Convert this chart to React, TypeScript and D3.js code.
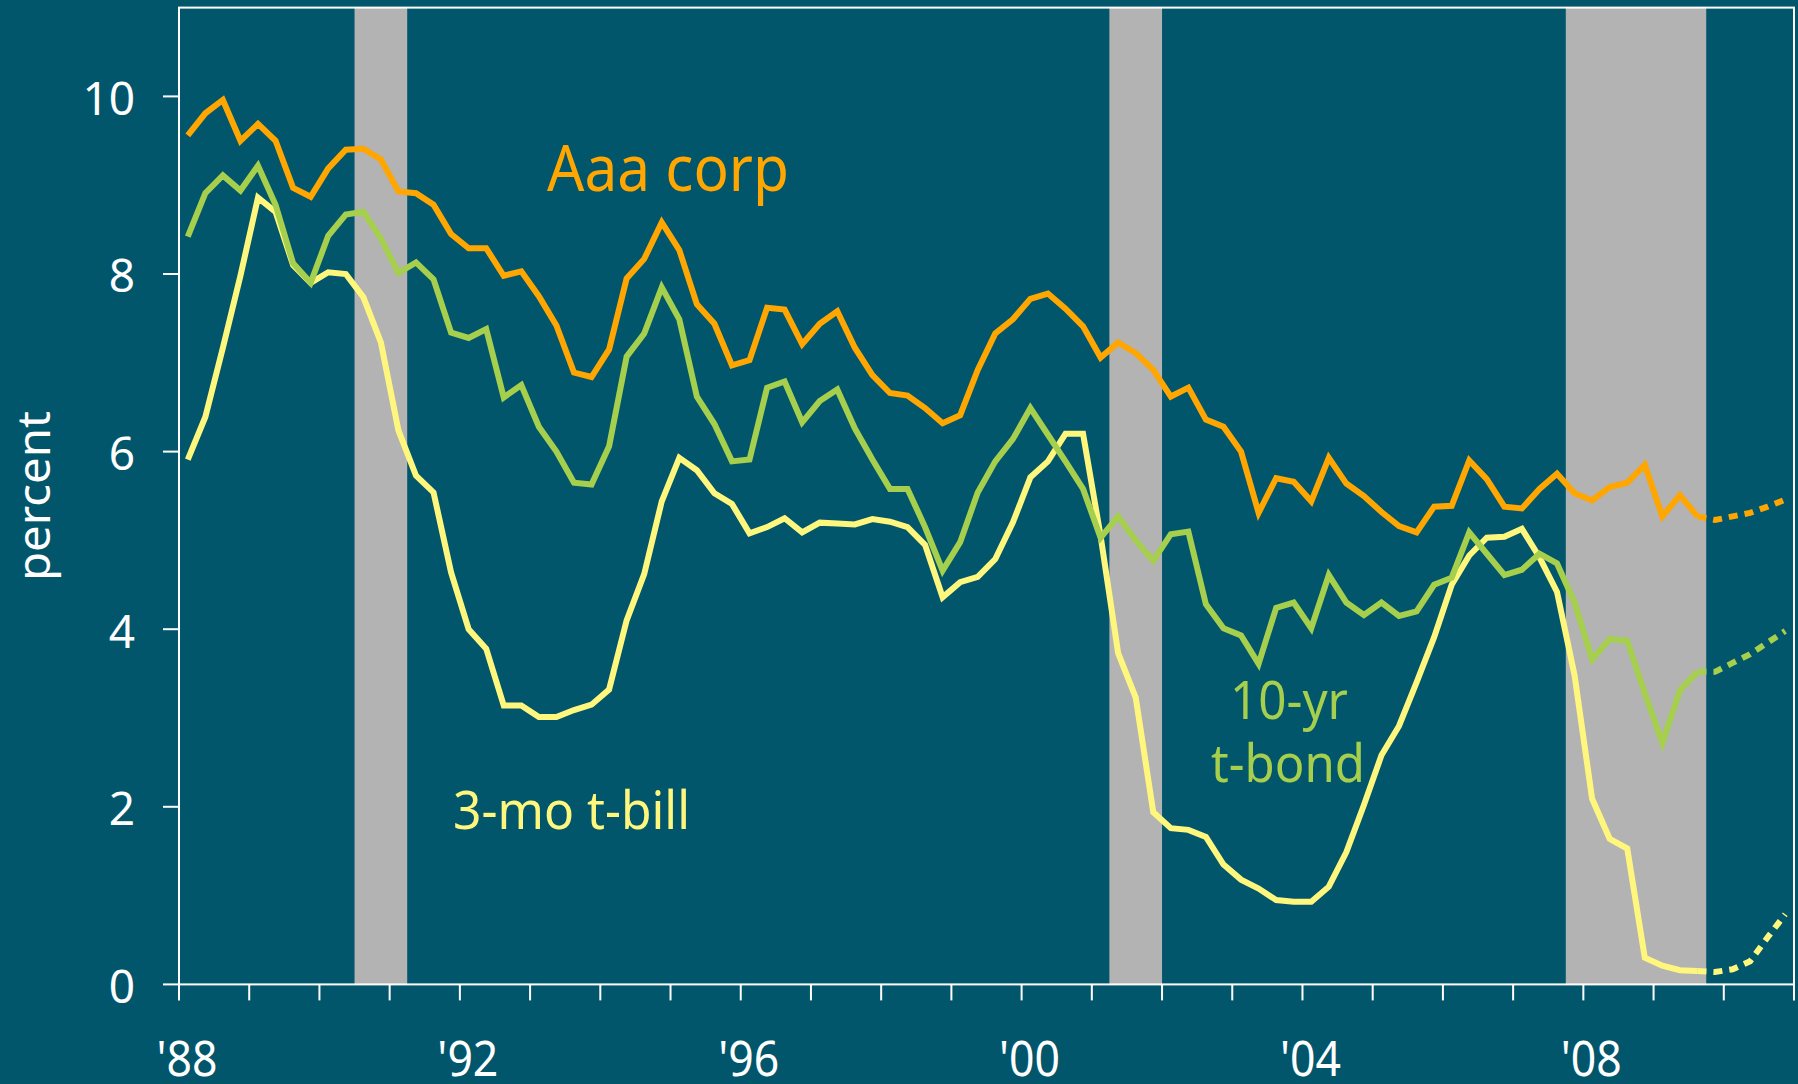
import React, { useEffect, useRef } from "react";
import * as d3 from "d3";

// quarterly averages, 1988Q1 .. 2009Q3
const startYear = 1988;

const aaaCorp = [
  9.56, 9.81, 9.96, 9.5, 9.69, 9.5, 8.97, 8.87, 9.19, 9.4, 9.41, 9.29,
  8.93, 8.91, 8.78, 8.45, 8.29, 8.29, 7.98, 8.03, 7.75, 7.42, 6.89, 6.84,
  7.15, 7.95, 8.17, 8.58, 8.27, 7.66, 7.44, 6.97, 7.03, 7.62, 7.6, 7.21,
  7.44, 7.58, 7.17, 6.86, 6.66, 6.63, 6.49, 6.32, 6.41, 6.92, 7.33, 7.49,
  7.72, 7.78, 7.61, 7.41, 7.06, 7.23, 7.11, 6.92, 6.62, 6.72, 6.36, 6.28,
  6.0, 5.31, 5.7, 5.66, 5.44, 5.93, 5.64, 5.5, 5.32, 5.16, 5.09, 5.38,
  5.39, 5.9, 5.69, 5.38, 5.36, 5.58, 5.75, 5.53, 5.45, 5.6, 5.65, 5.85,
  5.27, 5.51, 5.27,
];

const tenYearBond = [
  8.42, 8.91, 9.11, 8.94, 9.22, 8.78, 8.12, 7.9, 8.43, 8.67, 8.7, 8.4,
  8.01, 8.13, 7.94, 7.34, 7.28, 7.38, 6.61, 6.75, 6.28, 6.0, 5.65, 5.63,
  6.06, 7.07, 7.33, 7.85, 7.49, 6.62, 6.31, 5.89, 5.91, 6.72, 6.79, 6.33,
  6.57, 6.7, 6.26, 5.91, 5.58, 5.58, 5.15, 4.66, 4.98, 5.54, 5.89, 6.14,
  6.49, 6.19, 5.89, 5.58, 5.03, 5.27, 5.0, 4.77, 5.07, 5.1, 4.28, 4.01,
  3.93, 3.61, 4.24, 4.3, 4.01, 4.61, 4.3, 4.16, 4.3, 4.15, 4.2, 4.5,
  4.58, 5.09, 4.85, 4.61, 4.67, 4.85, 4.74, 4.3, 3.66, 3.89, 3.87, 3.28,
  2.72, 3.31, 3.52,
];

const threeMonthBill = [
  5.91, 6.39, 7.17, 7.98, 8.86, 8.7, 8.1, 7.9, 8.02, 8.0, 7.74, 7.23,
  6.24, 5.73, 5.54, 4.64, 4.0, 3.78, 3.14, 3.14, 3.01, 3.01, 3.09, 3.15,
  3.32, 4.1, 4.62, 5.44, 5.93, 5.79, 5.53, 5.41, 5.08, 5.15, 5.25, 5.09,
  5.2, 5.19, 5.18, 5.24, 5.21, 5.15, 4.95, 4.36, 4.53, 4.59, 4.79, 5.2,
  5.71, 5.89, 6.2, 6.2, 5.05, 3.73, 3.23, 1.94, 1.76, 1.74, 1.66, 1.35,
  1.18, 1.08, 0.95, 0.93, 0.93, 1.1, 1.49, 2.02, 2.58, 2.91, 3.4, 3.91,
  4.5, 4.83, 5.03, 5.04, 5.13, 4.81, 4.42, 3.48, 2.09, 1.64, 1.53, 0.3,
  0.21, 0.16, 0.15,
];

// forecast, 2009Q3 .. 2010Q4 (dotted)
const aaaForecast = [5.27, 5.23, 5.27, 5.31, 5.38, 5.46];
const bondForecast = [3.52, 3.52, 3.62, 3.72, 3.85, 3.98];
const billForecast = [0.15, 0.14, 0.17, 0.26, 0.53, 0.79];

const recessions = [
  [1990.5, 1991.25],
  [2001.25, 2002.0],
  [2007.75, 2009.75],
];

const yTicks = [0, 2, 4, 6, 8, 10];
const yearTicks = d3.range(1988, 2012);
const labelYears = [1988, 1992, 1996, 2000, 2004, 2008];

export default function App() {
  const svgRef = useRef(null);

  useEffect(() => {
    document.body.style.margin = "0";

    const bg = "#02566B";
    const font = "'Noto Sans', 'DejaVu Sans', sans-serif";

    const svg = d3.select(svgRef.current);
    svg.selectAll("*").remove();

    const x = d3.scaleLinear().domain([1988, 2011]).range([179, 1794]);
    const y = d3.scaleLinear().domain([0, 11]).range([984.4, 7.6]);
    const qx = (i) => x(startYear + (i + 0.5) / 4);

    svg.append("rect").attr("width", 1798).attr("height", 1084).attr("fill", bg);

    // recession bands
    svg
      .append("g")
      .selectAll("rect")
      .data(recessions)
      .join("rect")
      .attr("x", (d) => x(d[0]))
      .attr("width", (d) => x(d[1]) - x(d[0]))
      .attr("y", y(11))
      .attr("height", y(0) - y(11))
      .attr("fill", "#B3B3B3");

    const series = [
      { values: threeMonthBill, forecast: billForecast, color: "#FFF77D" },
      { values: tenYearBond, forecast: bondForecast, color: "#A5CF4C" },
      { values: aaaCorp, forecast: aaaForecast, color: "#FFA600" },
    ];

    series.forEach((s) => {
      const offset = s.values.length - 1;
      svg
        .append("path")
        .attr("d", d3.line().x((d, i) => qx(i)).y((d) => y(d))(s.values))
        .attr("fill", "none")
        .attr("stroke", s.color)
        .attr("stroke-width", 6);
      svg
        .append("path")
        .attr(
          "d",
          d3.line().x((d, i) => qx(i + offset)).y((d) => y(d))(s.forecast)
        )
        .attr("fill", "none")
        .attr("stroke", s.color)
        .attr("stroke-width", 6)
        .attr("stroke-dasharray", "9 7");
    });

    // frame
    svg
      .append("rect")
      .attr("x", x(1988))
      .attr("y", y(11))
      .attr("width", x(2011) - x(1988))
      .attr("height", y(0) - y(11))
      .attr("fill", "none")
      .attr("stroke", "white")
      .attr("stroke-width", 2);

    // x ticks
    svg
      .append("g")
      .selectAll("line")
      .data(yearTicks)
      .join("line")
      .attr("x1", (d) => x(d))
      .attr("x2", (d) => x(d))
      .attr("y1", y(0))
      .attr("y2", y(0) + 16)
      .attr("stroke", "white")
      .attr("stroke-width", 2);

    svg
      .append("g")
      .selectAll("text")
      .data(labelYears)
      .join("text")
      .attr("x", (d) => x(d) + 8)
      .attr("y", 1076)
      .attr("text-anchor", "middle")
      .attr("font-family", font)
      .attr("font-size", 49)
      .attr("fill", "white")
      .attr("textLength", 61)
      .attr("lengthAdjust", "spacingAndGlyphs")
      .text((d) => "'" + String(d).slice(2));

    // y ticks
    svg
      .append("g")
      .selectAll("line")
      .data(yTicks)
      .join("line")
      .attr("x1", x(1988) - 16)
      .attr("x2", x(1988))
      .attr("y1", (d) => y(d))
      .attr("y2", (d) => y(d))
      .attr("stroke", "white")
      .attr("stroke-width", 2);

    svg
      .append("g")
      .selectAll("text")
      .data(yTicks)
      .join("text")
      .attr("x", 135)
      .attr("y", (d) => y(d) + 18.3)
      .attr("text-anchor", "end")
      .attr("font-family", font)
      .attr("font-size", 46)
      .attr("fill", "white")
      .text((d) => d);

    svg
      .append("text")
      .attr("transform", "translate(50, 496) rotate(-90)")
      .attr("text-anchor", "middle")
      .attr("font-family", font)
      .attr("font-size", 46)
      .attr("fill", "white")
      .attr("textLength", 170)
      .attr("lengthAdjust", "spacingAndGlyphs")
      .text("percent");

    // series labels
    const label = (txt, lx, ly, size, len, color, anchor) =>
      svg
        .append("text")
        .attr("x", lx)
        .attr("y", ly)
        .attr("text-anchor", anchor)
        .attr("font-family", font)
        .attr("font-size", size)
        .attr("fill", color)
        .attr("textLength", len)
        .attr("lengthAdjust", "spacingAndGlyphs")
        .text(txt);

    label("Aaa corp", 547, 191, 64, 242, "#FFA600", "start");
    label("3-mo t-bill", 453, 829, 52, 237, "#FFF77D", "start");
    label("10-yr", 1289, 719.3, 52, 118, "#A5CF4C", "middle");
    label("t-bond", 1288, 781.7, 52, 154, "#A5CF4C", "middle");
  }, []);

  return (
    <div id="rates-chart">
      <svg ref={svgRef} width={1798} height={1084} style={{ display: "block" }}></svg>
    </div>
  );
}
